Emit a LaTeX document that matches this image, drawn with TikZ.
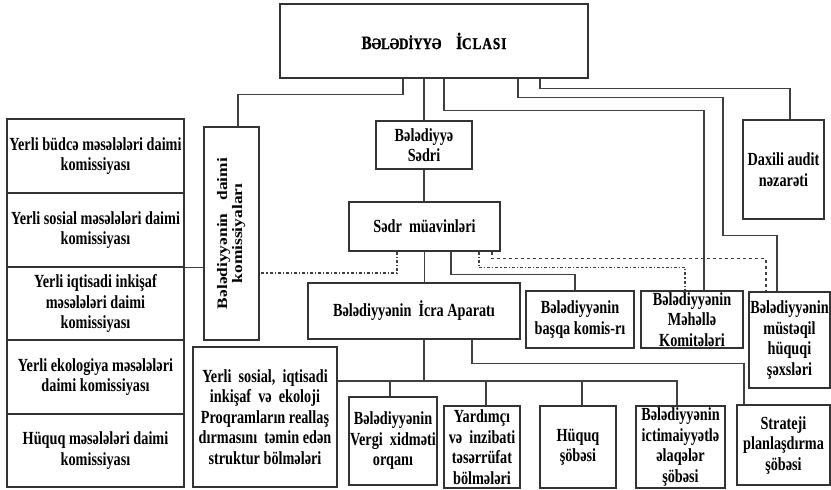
\documentclass[tikz,border=0pt]{standalone}
\usepackage{fontspec}
\setmainfont{Liberation Serif}[FakeStretch=0.77]
\newfontfamily\rotfont{Liberation Serif}[FakeStretch=1.2]
\newfontfamily\titlefont{Liberation Serif}[FakeStretch=0.8, FakeBold=1.2]
\usepackage{graphicx}
\usepackage{tikz}

\begin{document}
\begin{tikzpicture}[x=1pt, y=1pt, every node/.style = {shape=rectangle, draw=black!80, line width=1.3pt, align=center, inner sep=0.5pt, font=\fontsize{18.5}{20.5}\selectfont\bfseries}, link/.style = {draw=black!75, line width=1.1pt}, boxsize/.style 2 args = {minimum width=#1pt, minimum height=#2pt}]
    \useasboundingbox (0,0) rectangle (831,-490);
    \node[boxsize={308}{74}] (iclas) at (434,-41) {\titlefont{\fontsize{19}{20}\selectfont B}{\fontsize{16}{20}\selectfont ƏLƏDİYYƏ}~~~~{\fontsize{19}{20}\selectfont İ}{\fontsize{16.5}{20}\selectfont C\kern1pt L\kern1pt A\kern1pt S\kern1pt I}};
    \node[boxsize={177}{74}] (budce) at (95.5,-156) {Yerli büdcə məsələləri daimi\\komissiyası};
    \node[boxsize={177}{74}] (sosial) at (95.5,-230) {Yerli sosial məsələləri daimi\\komissiyası};
    \node[boxsize={177}{73}] (iqtisadi) at (95.5,-303.5) {Yerli iqtisadi inkişaf\\məsələləri daimi\\komissiyası};
    \node[boxsize={177}{74}] (ekologiya) at (95.5,-377) {Yerli ekologiya məsələləri\\daimi komissiyası};
    \node[boxsize={177}{73}] (huquq) at (95.5,-450.5) {Hüquq məsələləri daimi\\komissiyası};
    \node[boxsize={55}{213}] (daimi) at (231.5,-233.5) {\rotatebox{90}{\rotfont\fontsize{14.5}{15}\selectfont\begin{tabular}{@{}c@{}}Bələdiyyənin~~~daimi\\komissiyaları\end{tabular}}};
    \node[boxsize={96}{48}] (sedri) at (424,-145) {Bələdiyyə\\Sədri};
    \node[boxsize={151}{49}] (muav) at (424.5,-226.5) {Sədr~~müavinləri};
    \node[boxsize={81}{99}] (audit) at (783.5,-169.5) {Daxili audit\\nəzarəti};
    \node[boxsize={212}{56}] (icra) at (414,-311) {Bələdiyyənin~~İcra Aparatı};
    \node[boxsize={108}{57}] (basqa) at (580,-319.5) {Bələdiyyənin\\başqa komis-rı};
    \node[boxsize={102}{57}] (mehelle) at (692,-319.5) {Bələdiyyənin\\Məhəllə\\Komitələri};
    \node[boxsize={81}{96}] (musteqil) at (789.5,-340) {Bələdiyyənin\\müstəqil\\hüquqi\\şəxsləri};
    \node[boxsize={144}{140}] (proq) at (265,-417) {Yerli~~sosial,~~iqtisadi\\inkişaf~~və~~ekoloji\\Proqramların reallaş\\dırmasını~~təmin edən\\struktur bölmələri};
    \node[boxsize={88}{88}] (vergi) at (393,-441) {Bələdiyyənin\\Vergi~~xidməti\\orqanı};
    \node[boxsize={76}{82}] (yard) at (482,-447) {Yardımçı\\və~~inzibati\\təsərrüfat\\bölmələri};
    \node[boxsize={76}{82}] (huqsob) at (578,-447) {Hüquq\\şöbəsi};
    \node[boxsize={89}{82}] (ictim) at (680.5,-447) {Bələdiyyənin\\ictimaiyyətlə\\əlaqələr\\şöbəsi};
    \node[boxsize={93}{80}] (strat) at (783.5,-445) {Strateji\\planlaşdırma\\şöbəsi};
    \draw[link] (sedri.north) -- (sedri.north |- iclas.south);
    \draw[link] (sedri.south) -- (sedri.south |- muav.north);
    \draw[link] (muav.south) -- (muav.south |- icra.north);
    \draw[link] ([xshift=-31pt]iclas.south) -- ++(0,-16) -| ([xshift=6.5pt]daimi.north);
    \draw[link] (sosial.south east) -- (sosial.south east -| daimi.west);
    \draw[link, dashdotted] ([xshift=-27.5pt]muav.south) |- ([yshift=-39.5pt]daimi.east);
    \draw[link] ([xshift=26.5pt]muav.south) -- ++(0,-23) -| ([xshift=-5pt]basqa.north);
    \draw[link, dashdotted] ([xshift=54.5pt]muav.south) -- ++(0,-16) -| ([xshift=-7pt]mehelle.north);
    \draw[link, dashed] ([xshift=67.5pt]muav.south) -- ++(0,-7) -| ([xshift=-23.5pt]musteqil.north);
    \draw[link] ([xshift=10pt]iclas.south) -- ++(0,-32) -| ([xshift=12pt]mehelle.north);
    \draw[link] ([xshift=84pt]iclas.south) -- ++(0,-19) -- ++(205,0) -- ++(0,-138) -| ([xshift=-12.5pt]musteqil.north);
    \draw[link] ([xshift=106pt]iclas.south) -- ++(0,-10) -| ([xshift=6.5pt]audit.north);
    \draw[link] ([xshift=10pt]icra.south) -- ++(0,-42);
    \draw[link] ([yshift=36pt]proq.east) -| ([xshift=-3.5pt]ictim.north);
    \draw[link] ([xshift=-3pt]vergi.north) -- ++(0,16);
    \draw[link] ([xshift=4pt]yard.north) -- ++(0,25);
    \draw[link] ([xshift=4pt]huqsob.north) -- ++(0,25);
    \draw[link] ([xshift=58pt]icra.south) -- ++(0,-24) -| ([xshift=-39.5pt]strat.north);
\end{tikzpicture}
\end{document}
